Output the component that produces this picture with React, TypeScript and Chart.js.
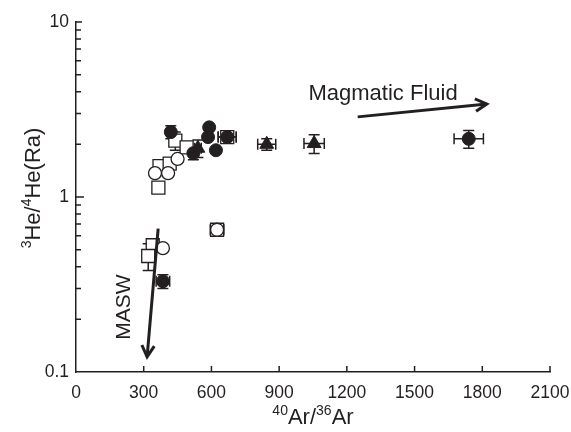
import { useEffect, useRef } from "react";
import { Chart, registerables } from "chart.js";

Chart.register(...registerables);

// ---- Data ----
const xTickValues = [0, 300, 600, 900, 1200, 1500, 1800, 2100];
const yTickValues = [0.1, 1, 10];

const filledCircleX = [420, 520, 590, 585, 620, 670, 385, 1740];
const filledCircleY = [2.35, 1.78, 2.5, 2.2, 1.85, 2.2, 0.33, 2.15];
const filledCircleXErr = [15, 0, 0, 0, 0, 40, 30, 65];
const filledCircleYErr = [0.2, 0.15, 0, 0, 0, 0.15, 0.03, 0.25];

const openCircleX = [450, 350, 408, 385, 625];
const openCircleY = [1.65, 1.37, 1.37, 0.51, 0.65];

const openSquareX = [440, 490, 370, 415, 365, 340, 320, 670, 625];
const openSquareY = [2.1, 1.92, 1.5, 1.55, 1.13, 0.53, 0.46, 2.2, 0.65];
const openSquareXErr = [0, 0, 0, 0, 0, 0, 0, 40, 30];
const openSquareYErr = [0.25, 0, 0, 0, 0, 0.04, 0.08, 0.15, 0.05];

const triangleX = [540, 845, 1055];
const triangleY = [1.9, 2.0, 2.02];
const triangleXErr = [15, 40, 45];
const triangleYErr = [0.22, 0.15, 0.25];

const maswArrow = [[364, 0.66], [315, 0.122]];
const magmaArrow = [[1248, 2.87], [1820, 3.4]];
const maswLabel = { x: 240, y: 0.235, text: "MASW" };
const magmaLabel = { x: 1030, y: 3.6, text: "Magmatic Fluid" };

const INK = "#231f20";
const FONT = "'Liberation Sans', Arial, sans-serif";

const pts = (xs: number[], ys: number[]) => xs.map((x, i) => ({ x, y: ys[i] }));

const errorBarPlugin = {
  id: "errorBars",
  beforeDatasetsDraw(chart: any) {
    const { ctx, scales } = chart;
    const xs = scales.x, ys = scales.y;
    ctx.save();
    ctx.strokeStyle = INK;
    ctx.lineWidth = 1.5;
    const cap = 5.5;
    chart.data.datasets.forEach((ds: any) => {
      const xe: number[] = ds.xErr || [];
      const ye: number[] = ds.yErr || [];
      ds.data.forEach((p: any, i: number) => {
        const px = xs.getPixelForValue(p.x);
        const py = ys.getPixelForValue(p.y);
        if (xe[i]) {
          const l = xs.getPixelForValue(p.x - xe[i]);
          const r = xs.getPixelForValue(p.x + xe[i]);
          ctx.beginPath();
          ctx.moveTo(l, py); ctx.lineTo(r, py);
          ctx.moveTo(l, py - cap); ctx.lineTo(l, py + cap);
          ctx.moveTo(r, py - cap); ctx.lineTo(r, py + cap);
          ctx.stroke();
        }
        if (ye[i]) {
          const t = ys.getPixelForValue(p.y + ye[i]);
          const b = ys.getPixelForValue(p.y - ye[i]);
          ctx.beginPath();
          ctx.moveTo(px, t); ctx.lineTo(px, b);
          ctx.moveTo(px - cap, t); ctx.lineTo(px + cap, t);
          ctx.moveTo(px - cap, b); ctx.lineTo(px + cap, b);
          ctx.stroke();
        }
      });
    });
    ctx.restore();
  },
};

function drawArrow(ctx: CanvasRenderingContext2D, x1: number, y1: number, x2: number, y2: number) {
  const ang = Math.atan2(y2 - y1, x2 - x1);
  const head = 13;
  const spread = 0.5;
  ctx.beginPath();
  ctx.moveTo(x1, y1);
  ctx.lineTo(x2, y2);
  ctx.stroke();
  ctx.beginPath();
  ctx.moveTo(x2 - head * Math.cos(ang - spread), y2 - head * Math.sin(ang - spread));
  ctx.lineTo(x2, y2);
  ctx.lineTo(x2 - head * Math.cos(ang + spread), y2 - head * Math.sin(ang + spread));
  ctx.stroke();
}

function drawRich(ctx: CanvasRenderingContext2D, parts: { t: string; sup?: boolean }[], cx: number, baseline: number, size: number, supSize: number) {
  const widths = parts.map((p) => {
    ctx.font = `${p.sup ? supSize : size}px ${FONT}`;
    return ctx.measureText(p.t).width;
  });
  const total = widths.reduce((a, b) => a + b, 0);
  let x = cx - total / 2;
  ctx.textAlign = "left";
  ctx.textBaseline = "alphabetic";
  parts.forEach((p, i) => {
    ctx.font = `${p.sup ? supSize : size}px ${FONT}`;
    ctx.fillText(p.t, x, p.sup ? baseline - size * 0.4 : baseline);
    x += widths[i];
  });
}

const decorPlugin = {
  id: "decor",
  afterDraw(chart: any) {
    const { ctx, scales, chartArea } = chart;
    const xs = scales.x, ys = scales.y;
    ctx.save();
    ctx.strokeStyle = INK;
    ctx.fillStyle = INK;
    ctx.lineWidth = 1.5;
    // inward y ticks
    ctx.beginPath();
    for (let d = 0.1; d < 10; d *= 10) {
      for (let k = 1; k <= 9; k++) {
        const v = Math.round(d * k * 1000) / 1000;
        if (v <= 0.1) continue;
        const py = ys.getPixelForValue(v);
        const len = k === 1 ? 8 : 5;
        ctx.moveTo(chartArea.left, py);
        ctx.lineTo(chartArea.left + len, py);
      }
    }
    const pTop = ys.getPixelForValue(10);
    ctx.moveTo(chartArea.left, pTop);
    ctx.lineTo(chartArea.left + 6, pTop);
    // inward x ticks
    xTickValues.forEach((v) => {
      if (v === 0) return;
      const px = xs.getPixelForValue(v);
      ctx.moveTo(px, chartArea.bottom);
      ctx.lineTo(px, chartArea.bottom - 6);
    });
    ctx.stroke();

    // arrows
    ctx.lineWidth = 3;
    ctx.lineCap = "butt";
    ctx.lineJoin = "miter";
    [maswArrow, magmaArrow].forEach((a) => {
      drawArrow(ctx, xs.getPixelForValue(a[0][0]), ys.getPixelForValue(a[0][1]), xs.getPixelForValue(a[1][0]), ys.getPixelForValue(a[1][1]));
    });

    // labels
    ctx.font = `22px ${FONT}`;
    ctx.textAlign = "left";
    ctx.textBaseline = "alphabetic";
    ctx.fillText(magmaLabel.text, xs.getPixelForValue(magmaLabel.x), ys.getPixelForValue(magmaLabel.y));
    ctx.save();
    ctx.translate(xs.getPixelForValue(maswLabel.x), ys.getPixelForValue(maswLabel.y));
    ctx.rotate(-Math.PI / 2);
    ctx.font = `21px ${FONT}`;
    ctx.textAlign = "center";
    ctx.fillText(maswLabel.text, 0, 0);
    ctx.restore();

    // axis titles
    drawRich(ctx, [{ t: "40", sup: true }, { t: "Ar/" }, { t: "36", sup: true }, { t: "Ar" }], (chartArea.left + chartArea.right) / 2 + 0, 424, 22, 14);
    ctx.save();
    ctx.translate(40, 188);
    ctx.rotate(-Math.PI / 2);
    drawRich(ctx, [{ t: "3", sup: true }, { t: "He/" }, { t: "4", sup: true }, { t: "He(Ra)" }], 0, 0, 22, 14);
    ctx.restore();
    ctx.restore();
  },
};

export default function App() {
  const ref = useRef<HTMLCanvasElement | null>(null);
  useEffect(() => {
    document.body.style.margin = "0";
    const canvas = ref.current!;
    const chart = new Chart(canvas, {
      type: "scatter",
      data: {
        datasets: [
          {
            label: "filled circles",
            data: pts(filledCircleX, filledCircleY),
            xErr: filledCircleXErr,
            yErr: filledCircleYErr,
            pointStyle: "circle",
            pointRadius: 6.5,
            backgroundColor: INK,
            borderColor: INK,
            borderWidth: 1,
            order: 1,
          } as any,
          {
            label: "open circles",
            data: pts(openCircleX, openCircleY),
            pointStyle: "circle",
            pointRadius: 6.5,
            backgroundColor: "#ffffff",
            borderColor: INK,
            borderWidth: 1.3,
            order: 2,
          },
          {
            label: "open squares",
            data: pts(openSquareX, openSquareY),
            xErr: openSquareXErr,
            yErr: openSquareYErr,
            pointStyle: "rect",
            pointRadius: 9.2,
            backgroundColor: "#ffffff",
            borderColor: INK,
            borderWidth: 1.3,
            order: 3,
          } as any,
          {
            label: "filled triangles",
            data: pts(triangleX, triangleY),
            xErr: triangleXErr,
            yErr: triangleYErr,
            pointStyle: "triangle",
            pointRadius: 8,
            backgroundColor: INK,
            borderColor: INK,
            borderWidth: 1,
            order: 0,
          } as any,
        ],
      },
      options: {
        responsive: false,
        animation: false,
        layout: { padding: { left: 0, top: 22, right: 21, bottom: 0 } },
        plugins: { legend: { display: false }, tooltip: { enabled: false } },
        scales: {
          x: {
            type: "linear",
            min: 0,
            max: 2100,
            afterBuildTicks: (s: any) => {
              s.ticks = xTickValues.map((v) => ({ value: v }));
            },
            afterFit: (s: any) => {
              s.height = 60;
              s.paddingLeft = 0;
              s.paddingRight = 0;
            },
            ticks: {
              color: INK,
              font: { family: FONT, size: 17.5 },
              padding: 11,
              maxRotation: 0,
              autoSkip: false,
              callback: (v: any) => String(v),
            },
            grid: { display: false, drawTicks: false },
            border: { display: true, color: INK, width: 1.5 },
          },
          y: {
            type: "logarithmic",
            min: 0.1,
            max: 10,
            afterBuildTicks: (s: any) => {
              s.ticks = yTickValues.map((v) => ({ value: v }));
            },
            afterFit: (s: any) => {
              s.width = 76;
              s.paddingTop = 0;
              s.paddingBottom = 0;
            },
            ticks: {
              color: INK,
              font: { family: FONT, size: 17.5 },
              padding: 7,
              autoSkip: false,
              callback: (v: any) => String(v),
            },
            grid: { display: false, drawTicks: false },
            border: { display: true, color: INK, width: 1.5 },
          },
        },
      },
      plugins: [errorBarPlugin, decorPlugin],
    });
    return () => chart.destroy();
  }, []);
  return <canvas ref={ref} width={571} height={432} style={{ display: "block" }} />;
}
